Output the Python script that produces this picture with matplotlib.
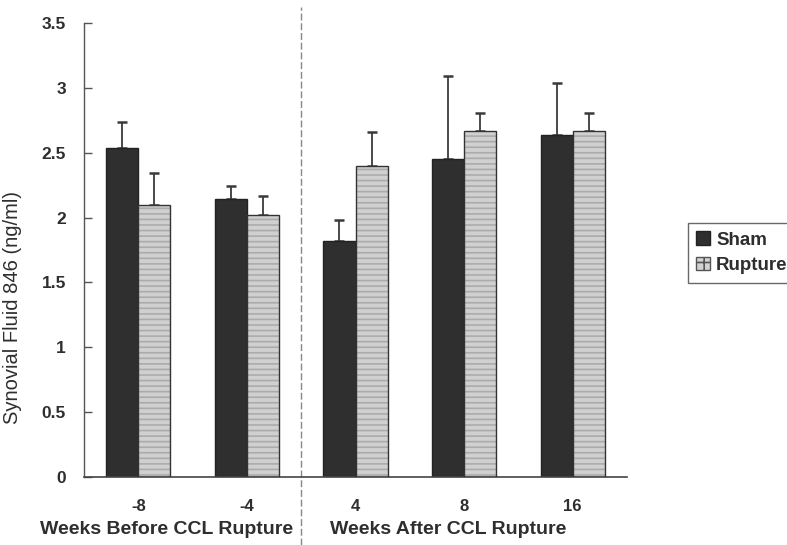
import matplotlib
matplotlib.use("Agg")
import matplotlib.pyplot as plt
import numpy as np
from matplotlib.patches import Patch

categories = ["-8", "-4", "4", "8", "16"]
sham = [2.54, 2.14, 1.82, 2.45, 2.64]
sham_err = [0.20, 0.10, 0.16, 0.64, 0.40]
rupture = [2.10, 2.02, 2.40, 2.67, 2.67]
rupture_err = [0.24, 0.15, 0.26, 0.14, 0.14]
period_labels = ["Weeks Before CCL Rupture", "Weeks After CCL Rupture"]
series_names = ["Sham", "Rupture"]

plt.rcParams['font.family'] = ['Liberation Sans', 'DejaVu Sans']
plt.rcParams['hatch.linewidth'] = 1.2

fig = plt.figure(figsize=(7.87, 5.45), dpi=100)
ax = fig.add_axes([84/787, 1-477/545, (627-84)/787, (477-23)/545])

txt = '#2e2e2e'
x = np.arange(len(categories))
w = 0.295
dark = '#2f2f2f'
ax.bar(x - w/2, sham, w, color=dark, edgecolor='#222222', linewidth=1, zorder=2)
ax.bar(x + w/2, rupture, w, color='#d0d0d0', edgecolor='#ababab', hatch='---', linewidth=0, zorder=2)
ax.bar(x + w/2, rupture, w, fill=False, edgecolor='#333333', linewidth=1, zorder=3)
ax.errorbar(x - w/2, sham, yerr=[np.zeros(len(sham)), sham_err], fmt='none',
            ecolor='#3a3a3a', elinewidth=1.3, capsize=3.5, capthick=1.8, zorder=1)
ax.errorbar(x + w/2, rupture, yerr=[np.zeros(len(rupture)), rupture_err], fmt='none',
            ecolor='#3a3a3a', elinewidth=1.3, capsize=3.5, capthick=1.8, zorder=1)

ax.set_xlim(-0.5, len(categories) - 0.5)
ax.set_ylim(0, 3.5)
ax.set_yticks(np.arange(0, 3.51, 0.5))
ax.set_yticklabels(['0', '0.5', '1', '1.5', '2', '2.5', '3', '3.5'], fontsize=12.5, fontweight='bold', color=txt)
ax.set_xticks(x)
ax.set_xticklabels(categories, fontsize=12, fontweight='bold', color=txt)
ax.tick_params(axis='x', length=0, pad=16)
ax.tick_params(axis='y', direction='in', length=6, width=1, color='#555555', pad=13)
for s in ['top', 'right']:
    ax.spines[s].set_visible(False)
ax.spines['left'].set_color('#555555')
ax.spines['bottom'].set_color('#444444')
ax.spines['left'].set_linewidth(1)
ax.spines['bottom'].set_linewidth(1.2)

ax.set_ylabel("Synovial Fluid 846 (ng/ml)", fontsize=14.5, color=txt)
ax.yaxis.set_label_coords(-(84-22)/543, 1-(308-23)/454)

# dashed separator
ax.axvline(1.5, ymin=-0.15, ymax=1.035, color='#888888', linestyle=(0, (5, 2)), linewidth=1, clip_on=False)

fig.text(167/787, 1-530/545, period_labels[0], ha='center', va='center', fontsize=14, fontweight='bold', color=txt)
fig.text(448/787, 1-530/545, period_labels[1], ha='center', va='center', fontsize=14, fontweight='bold', color=txt)

h1 = Patch(facecolor=dark, edgecolor='#222222')
h2 = Patch(facecolor='#d2d2d2', edgecolor='#555555', hatch='++')
leg = fig.legend([h1, h2], series_names, loc='upper left',
                 bbox_to_anchor=(688/787, 1-223/545), prop={'size': 13.5, 'weight': 'bold'},
                 frameon=True, fancybox=False, edgecolor='#444444',
                 handlelength=0.7, handleheight=0.7, handletextpad=0.35,
                 borderpad=0.45, labelspacing=0.45, borderaxespad=0)
for t in leg.get_texts():
    t.set_color(txt)
leg.get_frame().set_linewidth(1)

fig.savefig("out.png", dpi=100)
